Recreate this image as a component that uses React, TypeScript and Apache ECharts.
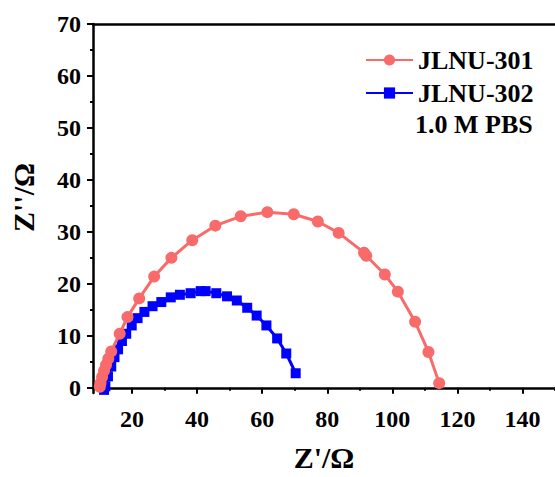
import React, { useEffect, useRef } from 'react';
import * as echarts from 'echarts';

const seriesNames = ['JLNU-301', 'JLNU-302'];

const jlnu301: [number, number][] = [
  [10.1, 0.2], [10.3, 0.9], [10.8, 2.1], [11.4, 3.3], [12.0, 4.4], [12.7, 5.6],
  [13.6, 7.0], [16.2, 10.4], [18.6, 13.6], [22.2, 17.2], [26.8, 21.4], [32.1, 25.0],
  [38.5, 28.4], [45.6, 31.2], [53.4, 33.0], [61.6, 33.8], [69.7, 33.4], [77.1, 32.0],
  [83.5, 29.8], [91.3, 26.0], [92.0, 25.4], [97.7, 21.8], [101.7, 18.5], [107.0, 12.7],
  [111.1, 6.9], [114.4, 0.9],
];

const jlnu302: [number, number][] = [
  [11.4, -0.4], [11.8, 0.3], [12.6, 2.2], [13.6, 4.1], [14.6, 5.9], [15.7, 7.4],
  [16.9, 9.0], [18.2, 10.4], [19.9, 12.0], [21.7, 13.4], [23.8, 14.6], [26.3, 15.7],
  [29.0, 16.5], [31.9, 17.4], [34.7, 17.9], [38.0, 18.2], [41.1, 18.6], [42.6, 18.6],
  [45.9, 18.2], [49.2, 17.6], [52.2, 16.8], [55.4, 15.4], [58.3, 13.9], [61.3, 12.0],
  [64.6, 9.5], [67.4, 6.6], [70.3, 2.8],
];

const xLabelValues = [20, 40, 60, 80, 100, 120, 140];
const xMinorTickValues = [10, 30, 50, 70, 90, 110, 130, 150];
const yLabelValues = [0, 10, 20, 30, 40, 50, 60, 70];
const yMinorTickValues = [5, 15, 25, 35, 45, 55, 65];
const xTitle = "Z'/Ω";
const yTitle = "Z''/Ω";
const noteText = '1.0 M PBS';

const FONT = "'Liberation Serif', 'Times New Roman', serif";
const RED = '#F96B6B';
const BLUE = '#0000FF';

export default function App() {
  const ref = useRef<HTMLDivElement>(null);
  useEffect(() => {
    if (!ref.current) return;
    const chart = echarts.init(ref.current, undefined, { renderer: 'svg' });
    const axisLine = { show: true, lineStyle: { color: '#000', width: 2.5 } };
    const xRange = { min: 8, max: 150 };
    const yRange = { min: -1, max: 70 };
    chart.setOption({
      animation: false,
      backgroundColor: '#fff',
      grid: { left: 92, top: 24, right: -3, bottom: 80, containLabel: false },
      legend: {
        data: seriesNames,
        orient: 'vertical',
        left: 360,
        top: 42,
        itemWidth: 47,
        itemHeight: 14,
        itemGap: 7,
        textStyle: { fontFamily: FONT, fontWeight: 'bold', fontSize: 26, color: '#000', lineHeight: 26 },
      },
      graphic: [
        {
          type: 'text',
          left: 415,
          top: 111,
          style: { text: noteText, fill: '#000', font: `bold 26px ${FONT}` },
        },
      ],
      xAxis: [
        {
          type: 'value',
          position: 'bottom',
          ...xRange,
          axisLine,
          splitLine: { show: false },
          axisTick: { show: true, length: 6, lineStyle: { width: 2, color: '#000' }, customValues: xLabelValues },
          axisLabel: {
            customValues: xLabelValues,
            margin: 14,
            fontFamily: FONT,
            fontWeight: 'bold',
            fontSize: 24,
            color: '#000',
          },
          name: xTitle,
          nameLocation: 'middle',
          nameGap: 49,
          nameTextStyle: { fontFamily: FONT, fontWeight: 'bold', fontSize: 30, color: '#000' },
        },
        {
          type: 'value',
          position: 'bottom',
          ...xRange,
          axisLine: { show: false },
          splitLine: { show: false },
          axisTick: { show: true, length: 3, lineStyle: { width: 2, color: '#000' }, customValues: xMinorTickValues },
          axisLabel: { show: false },
        },
        {
          type: 'value',
          position: 'top',
          ...xRange,
          axisLine,
          splitLine: { show: false },
          axisTick: { show: false },
          axisLabel: { show: false },
        },
      ],
      yAxis: [
        {
          type: 'value',
          position: 'left',
          ...yRange,
          axisLine,
          splitLine: { show: false },
          axisTick: { show: true, length: 6, lineStyle: { width: 2, color: '#000' }, customValues: yLabelValues },
          axisLabel: {
            customValues: yLabelValues,
            margin: 12,
            fontFamily: FONT,
            fontWeight: 'bold',
            fontSize: 24,
            color: '#000',
          },
          name: yTitle,
          nameLocation: 'middle',
          nameGap: 55,
          nameTextStyle: { fontFamily: FONT, fontWeight: 'bold', fontSize: 30, color: '#000', padding: [0, 0, 0, 22] },
        },
        {
          type: 'value',
          position: 'left',
          ...yRange,
          axisLine: { show: false },
          splitLine: { show: false },
          axisTick: { show: true, length: 3, lineStyle: { width: 2, color: '#000' }, customValues: yMinorTickValues },
          axisLabel: { show: false },
        },
      ],
      series: [
        {
          name: seriesNames[1],
          type: 'line',
          data: jlnu302,
          xAxisIndex: 0,
          yAxisIndex: 0,
          symbol: 'rect',
          symbolSize: 10,
          lineStyle: { color: BLUE, width: 3 },
          itemStyle: { color: BLUE },
          z: 2,
        },
        {
          name: seriesNames[0],
          type: 'line',
          data: jlnu301,
          xAxisIndex: 0,
          yAxisIndex: 0,
          symbol: 'circle',
          symbolSize: 12,
          lineStyle: { color: RED, width: 3 },
          itemStyle: { color: RED },
          z: 3,
        },
      ],
    });
    return () => chart.dispose();
  }, []);
  return <div ref={ref} style={{ position: 'fixed', left: 0, top: 0, width: 555, height: 477 }} />;
}
